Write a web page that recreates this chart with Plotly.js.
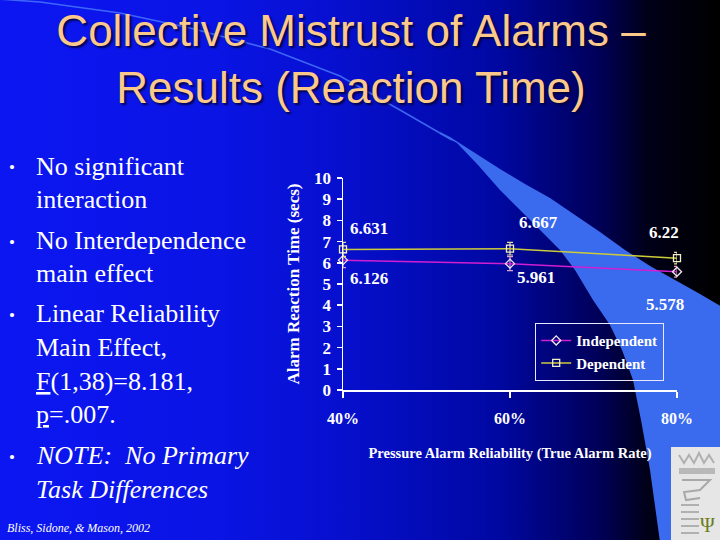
<!DOCTYPE html>
<html>
<head>
<meta charset="utf-8">
<script src="https://cdn.plot.ly/plotly-3.0.1.min.js"></script>
<style>
html,body{margin:0;padding:0;width:720px;height:540px;overflow:hidden;
background:linear-gradient(to right,#0c16f2 0%,#0a14e4 30%,#0710d0 46%,#0008a2 69%,#00005a 83%,#000018 90%,#000000 100%);}
#chart{width:720px;height:540px;}
</style>
</head>
<body>
<div id="chart"></div>
<script>
// ---- data ----
const categories = ['40%', '60%', '80%'];
const seriesNames = ['Independent', 'Dependent'];
const independent = [6.126, 5.961, 5.578];
const dependent = [6.631, 6.667, 6.22];
const independentErr = [0.35, 0.33, 0.25];
const dependentErr = [0.33, 0.30, 0.27];
const yTicks = [0, 1, 2, 3, 4, 5, 6, 7, 8, 9, 10];

const titleText = 'Collective Mistrust of Alarms –<br>Results (Reaction Time)';
const xTitle = 'Pressure Alarm Reliability (True Alarm Rate)';
const yTitle = 'Alarm Reaction Time (secs)';
const bulletText = [
  'No significant', 'interaction',
  'No Interdependence', 'main effect',
  'Linear Reliability', 'Main Effect,',
  '<u>F</u>(1,38)=8.181,', '<u>p</u>=.007.',
  '<i>NOTE:\u00a0 No Primary</i>', '<i>Task Differences</i>'
];
const citation = '<i>Bliss, Sidone, &amp; Mason, 2002</i>';

// ---- layout geometry (pixels) ----
const L = 343, R = 677, T = 178, B = 390;
const fx = x => (x - L) / (R - L);
const fy = y => (B - y) / (B - T);
const pathOf = (arr, close) => 'M' + arr.map(p => fx(p[0]).toFixed(4) + ',' + fy(p[1]).toFixed(4)).join(' L') + (close ? ' Z' : '');
const bulletLineY = [166, 199, 240, 273, 313, 347, 381, 414, 455, 489];
const bulletDotY = [166, 240, 313, 455];
// label offsets (px) per point
const indepLabelOff = [[5, -18], [5, -14], [-33, -33]];
const depLabelOff = [[5, 21], [7, 26], [-30, 26]];

const serif = 'Liberation Serif, Times New Roman, serif';
const sans = 'Liberation Sans, Arial, sans-serif';

const traces = [
  {
    x: categories, y: independent, name: seriesNames[0],
    type: 'scatter', mode: 'lines+markers', cliponaxis: false,
    line: {color: '#d21ed2', width: 1.5},
    marker: {symbol: 'diamond-open', size: 7, color: '#f4e6f4', line: {width: 1.3}},
    error_y: {type: 'data', array: independentErr, visible: true, color: '#e0a0c8', thickness: 1.2, width: 3}
  },
  {
    x: categories, y: dependent, name: seriesNames[1],
    type: 'scatter', mode: 'lines+markers', cliponaxis: false,
    line: {color: '#cccc3a', width: 1.5},
    marker: {symbol: 'square-open', size: 7, color: '#f2f0c8', line: {width: 1.3}},
    error_y: {type: 'data', array: dependentErr, visible: true, color: '#e6dc98', thickness: 1.2, width: 3}
  }
];

// ---- decorative swoosh ----
const thinLine = [[-2,-1],[40,2],[120,13],[190,28],[270,49],[340,76],[400,110],[452,140]];
const upper = [[440,132],[450,137],[475,153],[500,169],[525,184],[550,198],[575,215],[600,232],[625,250],[650,266],[675,280],[700,294],[722,307],[722,542]];
const lower = [[660,542],[650,470],[641,420],[633,380],[622,350],[610,325],[593,300],[575,270],[560,250],[533,223],[515,205],[500,190],[478,165],[457,143],[440,134]];
const swooshPath = pathOf(upper.concat(lower), true);

const shapes = [
  {type: 'path', xref: 'paper', yref: 'paper', path: pathOf(thinLine, false), line: {color: 'rgba(80,130,255,0.75)', width: 1.6}, layer: 'below'},
  {type: 'path', xref: 'paper', yref: 'paper', path: swooshPath, fillcolor: '#3a6aee', line: {width: 0}, layer: 'below'},
  // logo block
  {type: 'rect', xref: 'paper', yref: 'paper', x0: fx(671), x1: fx(722), y0: fy(447), y1: fy(542), fillcolor: '#e6e6e6', line: {width: 0}, layer: 'below'},
  {type: 'rect', xref: 'paper', yref: 'paper', x0: fx(679), x1: fx(715), y0: fy(468), y1: fy(474), fillcolor: '#b8b8b8', line: {width: 0}, layer: 'below'},
  {type: 'path', xref: 'paper', yref: 'paper', path: pathOf([[679,455],[684,463],[689,455],[694,463],[699,453],[704,463],[709,455],[714,463]], false), line: {color: '#b0b0b0', width: 2}, layer: 'below'},
  {type: 'path', xref: 'paper', yref: 'paper', path: pathOf([[682,480],[710,480],[700,490],[684,492],[686,500],[700,498]], false), line: {color: '#a8a8a8', width: 2}, layer: 'below'},
  {type: 'path', xref: 'paper', yref: 'paper', path: [505,512,519,526,533].map(y => pathOf([[681,y],[699,y]], false)).join(' '), line: {color: '#b0b0b0', width: 2}, layer: 'below'}
];

// ---- annotations ----
const annotations = [];
bulletText.forEach((t, i) => {
  annotations.push({xref: 'paper', yref: 'paper', x: fx(34), y: fy(bulletLineY[i]), xanchor: 'left', yanchor: 'middle',
    text: t, showarrow: false, font: {family: serif, size: 26, color: '#ffffff'}});
});
bulletDotY.forEach(y => {
  annotations.push({xref: 'paper', yref: 'paper', x: fx(12), y: fy(y + 2), xanchor: 'center', yanchor: 'middle',
    text: '•', showarrow: false, font: {family: serif, size: 17, color: '#ffffff'}});
});
categories.forEach((c, i) => {
  annotations.push({xref: 'x', yref: 'y', x: c, y: independent[i], text: String(independent[i]), showarrow: false,
    xanchor: 'left', yanchor: 'middle', xshift: indepLabelOff[i][0], yshift: indepLabelOff[i][1],
    font: {family: serif, size: 17, color: '#ffffff', weight: 'bold'}});
  annotations.push({xref: 'x', yref: 'y', x: c, y: dependent[i], text: String(dependent[i]), showarrow: false,
    xanchor: 'left', yanchor: 'middle', xshift: depLabelOff[i][0], yshift: depLabelOff[i][1],
    font: {family: serif, size: 17, color: '#ffffff', weight: 'bold'}});
});
annotations.push({xref: 'paper', yref: 'paper', x: fx(5), y: fy(528), xanchor: 'left', yanchor: 'middle',
  text: citation, showarrow: false, font: {family: serif, size: 12, color: '#ffffff'}});
annotations.push({xref: 'paper', yref: 'paper', x: fx(707), y: fy(525), xanchor: 'center', yanchor: 'middle',
  text: 'Ψ', showarrow: false, font: {family: serif, size: 20, color: '#6b7d1c'}});

const layout = {
  width: 720, height: 540,
  margin: {l: L, r: 720 - R, t: T, b: 540 - B, pad: 0},
  paper_bgcolor: 'rgba(0,0,0,0)', plot_bgcolor: 'rgba(0,0,0,0)',
  showlegend: true,
  title: {
    text: titleText, xref: 'container', yref: 'container',
    x: 351 / 720, xanchor: 'center', y: 1 - 46 / 540, yanchor: 'middle',
    font: {family: sans, size: 44, color: '#fcc98a', shadow: '2px 2px 2px rgba(0,0,50,0.85)'}
  },
  xaxis: {
    type: 'category', range: [0, 2], showgrid: false, zeroline: false,
    showline: true, linecolor: '#ffffff', linewidth: 1.5,
    ticks: 'outside', ticklen: 6, tickwidth: 1.5, tickcolor: '#ffffff',
    ticklabelstandoff: 7,
    tickfont: {family: serif, size: 16, color: '#ffffff', weight: 'bold'},
    title: {text: xTitle, standoff: 22, font: {family: serif, size: 14.5, color: '#ffffff', weight: 'bold'}}
  },
  yaxis: {
    range: [0, 10], tickvals: yTicks, ticktext: yTicks.map(String),
    showgrid: false, zeroline: false,
    showline: true, linecolor: '#ffffff', linewidth: 1.5,
    ticks: 'outside', ticklen: 5, tickwidth: 1.5, tickcolor: '#ffffff',
    ticklabelstandoff: 2,
    tickfont: {family: serif, size: 17, color: '#ffffff', weight: 'bold'},
    title: {text: yTitle, standoff: 10, font: {family: serif, size: 17, color: '#ffffff', weight: 'bold'}}
  },
  legend: {
    x: fx(535), y: fy(323), xanchor: 'left', yanchor: 'top',
    bgcolor: 'rgba(0,0,0,0)', bordercolor: '#e8e8ff', borderwidth: 1.2,
    font: {family: serif, size: 15, color: '#ffffff', weight: 'bold'},
    itemwidth: 30
  },
  shapes: shapes,
  annotations: annotations
};

Plotly.newPlot('chart', traces, layout, {displayModeBar: false, staticPlot: true});
</script>
</body>
</html>
